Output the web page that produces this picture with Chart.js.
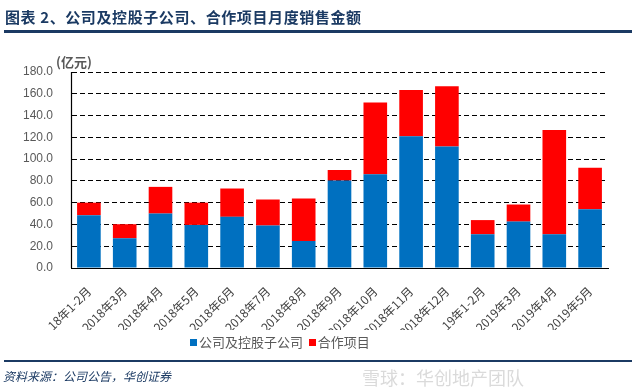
<!DOCTYPE html>
<html>
<head>
<meta charset="utf-8">
<script src="https://cdn.jsdelivr.net/npm/chart.js@4"></script>
<style>
  body { margin: 0; background: #fff; font-family: "Noto Sans CJK SC", sans-serif; }
  #wrap { position: relative; width: 637px; height: 387px; overflow: hidden; }
  #title { position: absolute; left: 5px; top: 6px; font-size: 15px; font-weight: bold; color: #1b3a63; letter-spacing: 0.6px; white-space: pre; }
  #titleLine { position: absolute; left: 4px; top: 30px; width: 628px; height: 3px; background: #1b3a63; }
  #unit { position: absolute; left: 56px; top: 52px; font-size: 13px; font-weight: bold; color: #595959; }
  #legend { position: absolute; left: 190px; top: 332px; font-size: 13px; color: #595959; }
  #legend span.box { display: inline-block; width: 7px; height: 7px; margin-right: 2px; vertical-align: 1px; }
  #footLine { position: absolute; left: 4px; top: 360px; width: 628px; height: 2px; background: #1b3a63; }
  #foot { position: absolute; left: 3px; top: 367px; font-size: 12px; font-style: italic; color: #1b3a63; }
  #mark { position: absolute; left: 362px; top: 364px; font-size: 18px; color: rgba(150,150,150,0.35); }
  canvas { position: absolute; left: 0; top: 0; }
</style>
</head>
<body>
<div id="wrap">
  <canvas id="chart" width="637" height="387"></canvas>
  <div id="title">图表 2、公司及控股子公司、合作项目月度销售金额</div>
  <div id="titleLine"></div>
  <div id="unit">(亿元)</div>
  <div id="legend"><span class="box" style="background:#0070c0"></span>公司及控股子公司&nbsp;&nbsp;<span class="box" style="background:#ff0000"></span>合作项目</div>
  <div id="footLine"></div>
  <div id="foot">资料来源：公司公告，华创证券</div>
  <div id="mark">雪球：华创地产团队</div>
</div>
<script>
const categories = ['18年1-2月', '2018年3月', '2018年4月', '2018年5月', '2018年6月', '2018年7月', '2018年8月', '2018年9月',
  '2018年10月', '2018年11月', '2018年12月', '19年1-2月', '2019年3月', '2019年4月', '2019年5月'];
// 公司及控股子公司
const companyValues = [48.5, 27.3, 50.0, 39.6, 47.0, 39.0, 24.8, 80.3, 86.0, 121.0, 111.6, 31.0, 42.6, 31.0, 54.0];
// 合作项目
const coopValues = [11.5, 12.9, 24.5, 20.4, 26.0, 23.9, 39.0, 9.7, 66.0, 42.5, 55.2, 13.0, 15.7, 95.7, 38.0];
const yTicks = [0, 20, 40, 60, 80, 100, 120, 140, 160, 180];

const ctx = document.getElementById('chart').getContext('2d');
new Chart(ctx, {
  type: 'bar',
  data: {
    labels: categories,
    datasets: [
      {
        label: '公司及控股子公司',
        data: companyValues,
        backgroundColor: '#0070c0',
        categoryPercentage: 0.66,
        barPercentage: 1
      },
      {
        label: '合作项目',
        data: coopValues,
        backgroundColor: '#ff0000',
        categoryPercentage: 0.66,
        barPercentage: 1
      }
    ]
  },
  options: {
    responsive: false,
    animation: false,
    layout: { padding: { left: 0, right: 29, top: 72, bottom: 57 } },
    plugins: { legend: { display: false }, tooltip: { enabled: false } },
    scales: {
      x: {
        stacked: true,
        grid: { display: false },
        border: { display: true, color: '#000', width: 1 },
        ticks: {
          minRotation: 45, maxRotation: 45, padding: 8,
          color: '#404040',
          font: { family: '"Noto Sans CJK SC", sans-serif', size: 12 }
        },
        afterFit: (scale) => { scale.height = 62; }
      },
      y: {
        stacked: true,
        min: 0, max: 180,
        afterBuildTicks: (scale) => { scale.ticks = yTicks.map(v => ({ value: v })); },
        grid: { color: '#000000', drawTicks: false, lineWidth: 1 },
        border: { display: true, color: '#000', width: 1, dash: [5, 3] },
        ticks: {
          padding: 18,
          color: '#595959',
          font: { family: '"Liberation Sans", sans-serif', size: 12 },
          callback: (v) => Number(v).toFixed(1)
        },
        afterFit: (scale) => { scale.width = 71; }
      }
    }
  },
  plugins: [{
    id: 'solidAxis',
    afterDraw(chart) {
      const a = chart.chartArea;
      const c = chart.ctx;
      c.save();
      c.strokeStyle = '#000';
      c.lineWidth = 1.2;
      c.setLineDash([]);
      c.beginPath();
      c.moveTo(Math.round(a.left) + 0.5, a.top);
      c.lineTo(Math.round(a.left) + 0.5, a.bottom);
      c.moveTo(a.left, Math.round(a.bottom) + 0.5);
      c.lineTo(a.right, Math.round(a.bottom) + 0.5);
      c.stroke();
      c.restore();
    }
  }]
});
</script>
</body>
</html>
